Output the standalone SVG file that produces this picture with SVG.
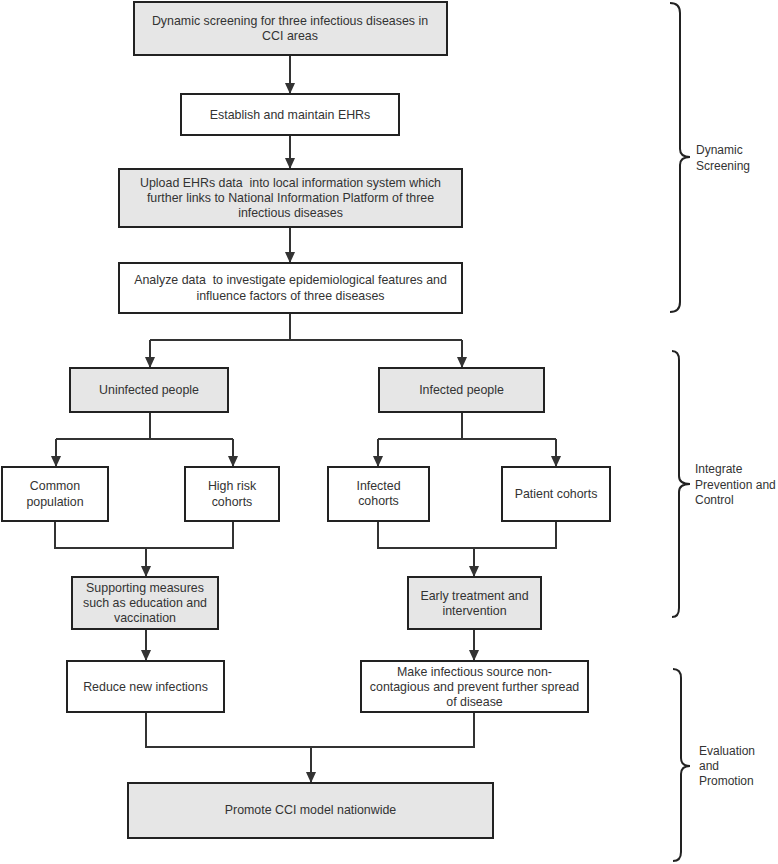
<svg xmlns="http://www.w3.org/2000/svg" width="778" height="864" viewBox="0 0 778 864">
<defs>
<marker id="ah" markerUnits="userSpaceOnUse" markerWidth="11" markerHeight="13" refX="12" refY="5.5" orient="auto" viewBox="0 0 12 11">
<path d="M0,0 L12,5.5 L0,11 z" fill="#333"/>
</marker>
<style>
.box{stroke:#222;stroke-width:2;fill:#fff}
.g{fill:#e6e6e6}
text{font-family:"Liberation Sans",Arial,sans-serif;font-size:12.4px;fill:#333}
.c{text-anchor:middle}
.s{font-size:12px}
.ln{fill:none;stroke:#333;stroke-width:2}
.ar{fill:none;stroke:#333;stroke-width:2;marker-end:url(#ah)}
.br{fill:none;stroke:#222;stroke-width:2}
</style>
</defs>
<rect width="778" height="864" fill="#fff"/>
<g id="connectors">
<path class="ar" d="M290,55 V94"/>
<path class="ar" d="M290,135 V169"/>
<path class="ar" d="M290,227 V263"/>
<path class="ln" d="M290,313 V340 M150,340 H462"/>
<path class="ar" d="M150,340 V368"/>
<path class="ar" d="M462,340 V368"/>
<path class="ln" d="M150,412 V439 M56,439 H233"/>
<path class="ar" d="M56,439 V467"/>
<path class="ar" d="M233,439 V467"/>
<path class="ln" d="M462,412 V439 M378,439 H556"/>
<path class="ar" d="M378,439 V467"/>
<path class="ar" d="M556,439 V467"/>
<path class="ln" d="M55,521 V548 H233 V521"/>
<path class="ar" d="M146,548 V577"/>
<path class="ar" d="M146,629 V661"/>
<path class="ln" d="M378,521 V548 H556 V521"/>
<path class="ar" d="M474,548 V577"/>
<path class="ar" d="M474,629 V661"/>
<path class="ln" d="M146,712 V747 H474 V712"/>
<path class="ar" d="M311,747 V783"/>
</g>
<g id="n1"><rect class="box g" x="134" y="2" width="313" height="53"/>
<text class="c" x="290" y="25">Dynamic screening for three infectious diseases in</text>
<text class="c" x="290" y="40">CCI areas</text></g>
<g id="n2"><rect class="box" x="181" y="94" width="218" height="41"/>
<text class="c" x="290" y="119">Establish and maintain EHRs</text></g>
<g id="n3"><rect class="box g" x="119" y="169" width="343" height="58"/>
<text class="c" x="290.5" y="187" style="white-space:pre">Upload EHRs data  into local information system which</text>
<text class="c" x="290.5" y="202">further links to National Information Platform of three</text>
<text class="c" x="290.5" y="217">infectious diseases</text></g>
<g id="n4"><rect class="box" x="119" y="263" width="343" height="50"/>
<text class="c" x="290.5" y="284" style="white-space:pre">Analyze data  to investigate epidemiological features and</text>
<text class="c" x="290.5" y="300">influence factors of three diseases</text></g>
<g id="n5"><rect class="box g" x="70" y="368" width="158" height="44"/>
<text class="c" x="149" y="394">Uninfected people</text></g>
<g id="n6"><rect class="box g" x="379" y="368" width="165" height="44"/>
<text class="c" x="461.5" y="394">Infected people</text></g>
<g id="n7"><rect class="box" x="2" y="467" width="106" height="54"/>
<text class="c" x="55" y="490">Common</text>
<text class="c" x="55" y="506">population</text></g>
<g id="n8"><rect class="box" x="185" y="467" width="94" height="54"/>
<text class="c" x="232" y="490">High risk</text>
<text class="c" x="232" y="506">cohorts</text></g>
<g id="n9"><rect class="box" x="328" y="467" width="101" height="54"/>
<text class="c" x="378.5" y="490">Infected</text>
<text class="c" x="378.5" y="505">cohorts</text></g>
<g id="n10"><rect class="box" x="502" y="467" width="108" height="54"/>
<text class="c" x="556" y="498">Patient cohorts</text></g>
<g id="n11"><rect class="box g" x="72" y="577" width="146" height="52"/>
<text class="c" x="145" y="592">Supporting measures</text>
<text class="c" x="145" y="607">such as education and</text>
<text class="c" x="145" y="622">vaccination</text></g>
<g id="n12"><rect class="box g" x="408" y="577" width="133" height="52"/>
<text class="c" x="474.5" y="600">Early treatment and</text>
<text class="c" x="474.5" y="615">intervention</text></g>
<g id="n13"><rect class="box" x="67" y="661" width="157" height="51"/>
<text class="c" x="145.5" y="691">Reduce new infections</text></g>
<g id="n14"><rect class="box" x="361" y="661" width="227" height="51"/>
<text class="c" x="474.5" y="676">Make infectious source non-</text>
<text class="c" x="474.5" y="691">contagious and prevent further spread</text>
<text class="c" x="474.5" y="706">of disease</text></g>
<g id="n15"><rect class="box g" x="128" y="783" width="365" height="55"/>
<text class="c" x="310.5" y="814">Promote CCI model nationwide</text></g>
<g id="brace1"><path class="br" d="M670,3 Q680,3 680,13 L680,149 Q680,157 690,157 Q680,157 680,165 L680,302 Q680,312 670,312"/>
<text class="s" x="696" y="154">Dynamic</text><text class="s" x="696" y="170">Screening</text></g>
<g id="brace2"><path class="br" d="M672,351 Q679,351 679,360 L679,476 Q679,484 690,484 Q679,484 679,492 L679,608 Q679,617 672,617"/>
<text class="s" x="695" y="473">Integrate</text><text class="s" x="695" y="489">Prevention and</text><text class="s" x="695" y="504">Control</text></g>
<g id="brace3"><path class="br" d="M673,669 Q681,669 681,678 L681,758 Q681,766 690,766 Q681,766 681,774 L681,852 Q681,861 673,861"/>
<text class="s" x="699" y="755">Evaluation</text><text class="s" x="699" y="770">and</text><text class="s" x="699" y="785">Promotion</text></g>
</svg>
